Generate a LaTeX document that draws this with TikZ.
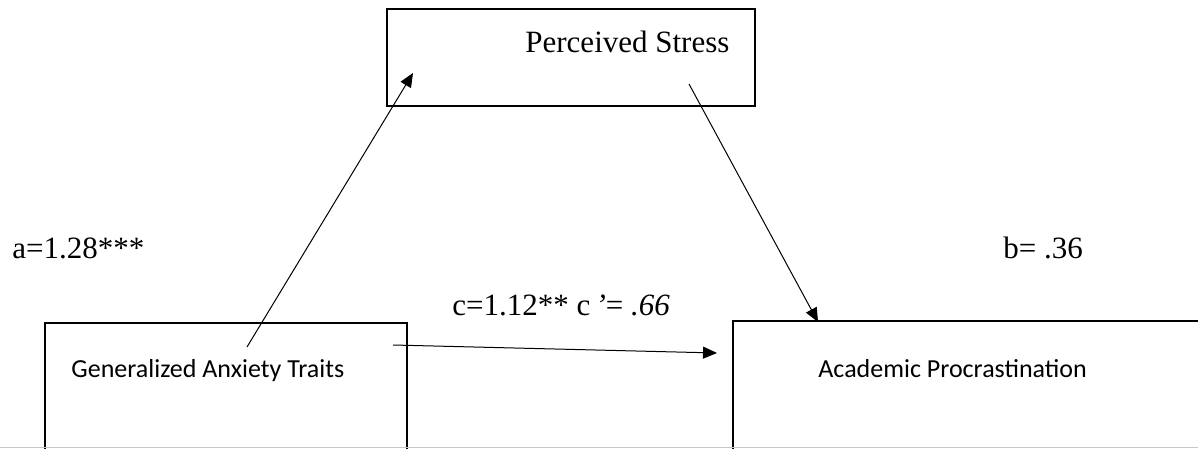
\documentclass[tikz,border=0pt]{standalone}
\usepackage{fontspec}
\setmainfont{Liberation Serif}
\newfontfamily\calibrifont{Carlito}
\usetikzlibrary{positioning}
\usetikzlibrary{arrows.meta}
\tikzset{boxnode/.style = {draw, rectangle, line width=1.2pt, inner sep=0}}
\tikzset{serlbl/.style = {font=\fontsize{15.5}{18}\selectfont, inner sep=0, anchor=base west}}
\tikzset{sanslbl/.style = {font=\calibrifont\fontsize{13}{16}\selectfont, inner sep=0, anchor=base west}}
\tikzset{effect/.style = {line width=0.5pt, -{Triangle[length=7pt,width=6pt]}}}

\begin{document}
\begin{tikzpicture}[x=0.5pt, y=-0.5pt]
        \useasboundingbox (0,0) rectangle (1198,449);
        \clip (0,0) rectangle (1198,449);
        % boxes
        \node[boxnode, minimum width=184pt, minimum height=48.5pt] (ps) at (571,57.5) {};
        \node[boxnode, minimum width=181pt, minimum height=90pt] (gat) at (226,413) {};
        \node[boxnode, minimum width=300pt, minimum height=90pt] (ap) at (1033,411) {};
        \draw[gray!45, line width=0.6pt] (0,447.5) -- (1198,447.5);
        % texts
        \node[serlbl] (pstxt) at (525,53) {Perceived Stress};
        \node[sanslbl] (gattxt) at (71,377) {Generalized Anxiety Traits};
        \node[sanslbl] (aptxt) at (818,377) {Academic Procrastination};
        \node[serlbl] (alab) at (12,258) {a=1.28***};
        \node[serlbl] (blab) at (1003,258) {b= .36};
        \node[serlbl] (clab) at (452,315) {c=1.12** c\,\textit{’}= \textit{.66}};
        % paths
        \coordinate (afrom) at (247,347);
        \coordinate (ato) at (413,73);
        \coordinate (bfrom) at (689,84);
        \coordinate (bto) at (818,322);
        \coordinate (cfrom) at (393,345);
        \coordinate (cto) at (717,353);
        \draw[effect] (afrom) -- (ato);
        \draw[effect] (bfrom) -- (bto);
        \draw[effect] (cfrom) -- (cto);
\end{tikzpicture}
\end{document}
